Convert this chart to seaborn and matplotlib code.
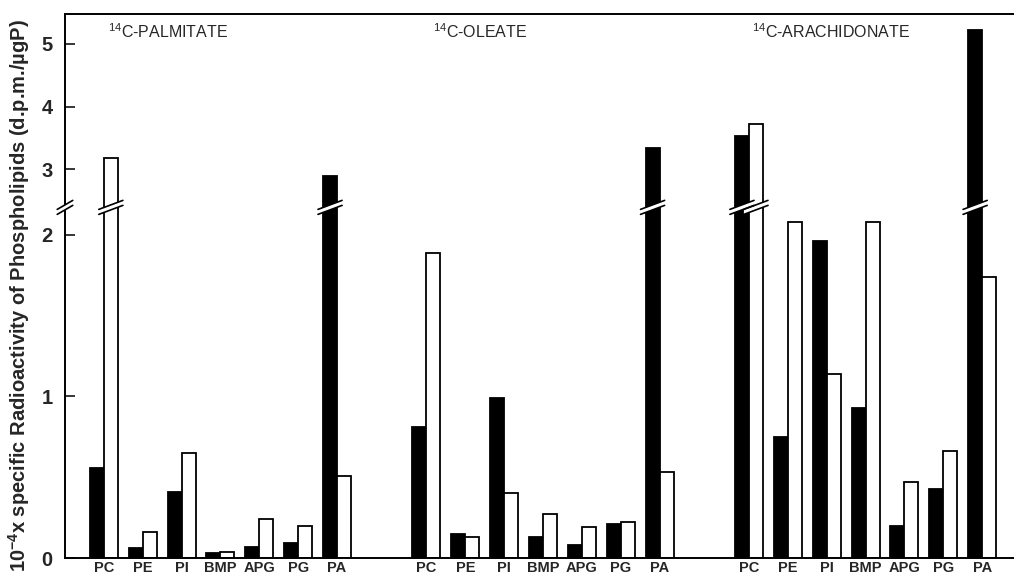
import numpy as np
import pandas as pd
import matplotlib
matplotlib.use("Agg")
import matplotlib.pyplot as plt
from matplotlib.patches import Polygon
import seaborn as sns

# values (10^-4 x d.p.m./ugP)
lipids = ["PC", "PE", "PI", "BMP", "APG", "PG", "PA"]
groups = ["$^{14}$C-PALMITATE", "$^{14}$C-OLEATE", "$^{14}$C-ARACHIDONATE"]
palmitate_filled = [0.56, 0.06, 0.41, 0.03, 0.07, 0.09, 2.89]
palmitate_open = [3.18, 0.16, 0.65, 0.04, 0.24, 0.20, 0.51]
oleate_filled = [0.81, 0.15, 0.99, 0.13, 0.08, 0.21, 3.34]
oleate_open = [1.89, 0.13, 0.40, 0.27, 0.19, 0.22, 0.53]
arach_filled = [3.53, 0.75, 1.96, 0.93, 0.20, 0.43, 5.23]
arach_open = [3.72, 2.08, 1.14, 2.08, 0.47, 0.66, 1.74]

filled = [palmitate_filled, oleate_filled, arach_filled]
opened = [palmitate_open, oleate_open, arach_open]

# broken axis: 0-2.15 linear, 2.45-5.5 compressed
LO, HI = 2.15, 2.45
A, R = 2.4056, 0.3885
UHI = A + (HI - 3) * R


def fwd(y):
    y = np.asarray(y, dtype=float)
    mid = LO + (y - LO) * (UHI - LO) / (HI - LO)
    return np.where(y <= LO, y, np.where(y >= HI, A + (y - 3) * R, mid))


def inv(u):
    u = np.asarray(u, dtype=float)
    mid = LO + (u - LO) * (HI - LO) / (UHI - LO)
    return np.where(u <= LO, u, np.where(u >= UHI, 3 + (u - A) / R, mid))


step = 8.3
rows = []
positions = []
for g in range(3):
    pos = np.arange(len(lipids)) + g * step
    positions.extend(pos)
    for p, vf, vo in zip(pos, filled[g], opened[g]):
        rows.append({"pos": p, "kind": "filled", "value": vf})
        rows.append({"pos": p, "kind": "open", "value": vo})
df = pd.DataFrame(rows)

sns.set_style("white")
plt.rcParams["font.family"] = ["Liberation Sans", "DejaVu Sans"]
plt.rcParams["mathtext.fontset"] = "custom"
plt.rcParams["mathtext.rm"] = "Liberation Sans"
plt.rcParams["mathtext.bf"] = "Liberation Sans:bold"

fig = plt.figure(figsize=(10.14, 5.77), dpi=100)
ax = fig.add_axes([65 / 1014, 19 / 577, 949 / 1014, 544 / 577])

sns.barplot(data=df, x="pos", y="value", hue="kind", hue_order=["filled", "open"],
            palette={"filled": "black", "open": "white"}, native_scale=True,
            width=0.72, edgecolor="black", linewidth=1.3, errorbar=None,
            legend=False, ax=ax)

ax.set_yscale("function", functions=(fwd, inv))
ytop = 5.478
ax.set_ylim(0, ytop)
ax.set_xlim(-1.0, 2 * step + 6 + 0.82)

ax.set_yticks([0, 1, 2, 3, 4, 5])
ax.set_yticklabels(["0", "1", "2", "3", "4", "5"], fontsize=14.5, fontweight="bold")
ax.tick_params(axis="y", direction="in", length=7, width=1.3, pad=9, left=True)
ax.set_xticks(positions)
ax.set_xticklabels(lipids * 3, fontsize=10.5, fontweight="bold")
ax.tick_params(axis="x", length=0, pad=2.5)
ax.set_xlabel("")
ax.set_ylabel("10$^{\\mathbf{-4}}$x specific Radioactivity of Phospholipids (d.p.m./\u00b5gP)",
              fontsize=14.5, fontweight="bold")
ax.yaxis.set_label_coords(-0.035, 0.483)

for side in ["left", "bottom", "top"]:
    ax.spines[side].set_visible(True)
    ax.spines[side].set_linewidth(1.4)
    ax.spines[side].set_color("black")
ax.spines["right"].set_visible(False)

title_x = [0.1, step + 0.18, 2 * step + 0.08]
for tx, name in zip(title_x, groups):
    ax.text(tx, 0.967, name, transform=ax.get_xaxis_transform(),
            ha="left", va="center", fontsize=11.5)

# break marks
trans = ax.get_xaxis_transform()
yb = float(fwd(2.3)) / float(fwd(ytop))
d = 4.5 / 544
g = 2.5 / 544


def draw_break(xl, xr):
    band = Polygon([(xl, yb - d - g), (xr, yb + d - g), (xr, yb + d + g), (xl, yb - d + g)],
                   closed=True, facecolor="white", edgecolor="none",
                   transform=trans, zorder=5, clip_on=False)
    ax.add_patch(band)
    for s in (-g, g):
        ax.plot([xl, xr], [yb - d + s, yb + d + s], color="black", lw=1.2,
                transform=trans, zorder=6, clip_on=False)


for bar in list(ax.patches):
    if bar.get_height() > HI:
        x0 = bar.get_x()
        draw_break(x0 - 0.13, x0 + bar.get_width() + 0.13)
draw_break(-1.2, -0.8)

fig.savefig("out.png", dpi=100)
